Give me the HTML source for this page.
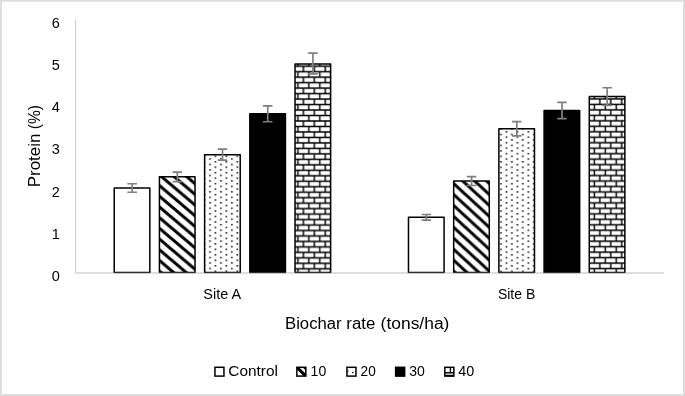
<!DOCTYPE html>
<html><head><meta charset="utf-8"><title>Protein chart</title>
<style>
html,body{margin:0;padding:0;background:#fff;}
body{width:685px;height:396px;overflow:hidden;}
svg{display:block;}
text{font-family:"Liberation Sans",sans-serif;fill:#000;}
</style></head><body>
<svg width="685" height="396" viewBox="0 0 685 396">
<defs>
<pattern id="dg1" width="10.7000" height="10.7000" patternUnits="userSpaceOnUse" patternTransform="translate(159.500,185.600) scale(1.1765,1)"><rect width="10.7000" height="10.7000" fill="#fff"/><path d="M-10.7,-10.7 L21.4,21.4 M0,-10.7 L21.4,10.7 M-10.7,0 L10.7,21.4" stroke="#000" stroke-width="2.837"/></pattern>
<pattern id="dt2" width="10.9500" height="5.4750" patternUnits="userSpaceOnUse" patternTransform="translate(0.266,3.996)"><rect width="10.9500" height="5.4750" fill="#fff"/><rect x="0.94" y="0.94" width="1.489" height="1.489" fill="#000"/><rect x="6.415" y="3.677" width="1.489" height="1.489" fill="#000"/></pattern>
<pattern id="bk3" width="10.9500" height="10.9500" patternUnits="userSpaceOnUse" patternTransform="translate(7.750,0.550)"><rect x="-10.95" y="-10.95" width="32.850" height="32.850" fill="#fff"/><path d="M-10.95,0 H21.9 M-10.95,5.475 H21.9 M-10.95,10.950 H21.9 M0,0 V5.475 M10.950,0 V5.475 M5.475,5.475 V10.950" stroke="#000" stroke-width="1.437" fill="none"/></pattern>
<pattern id="dg4" width="10.9500" height="10.9500" patternUnits="userSpaceOnUse" patternTransform="translate(453.800,183.700) scale(1.0870,1)"><rect width="10.9500" height="10.9500" fill="#fff"/><path d="M-10.95,-10.95 L21.9,21.9 M0,-10.95 L21.9,10.95 M-10.95,0 L10.95,21.9" stroke="#000" stroke-width="2.904"/></pattern>
<pattern id="dt5" width="10.9500" height="5.4750" patternUnits="userSpaceOnUse" patternTransform="translate(1.016,4.091)"><rect width="10.9500" height="5.4750" fill="#fff"/><rect x="0.94" y="0.94" width="1.489" height="1.489" fill="#000"/><rect x="6.415" y="3.677" width="1.489" height="1.489" fill="#000"/></pattern>
<pattern id="bk6" width="10.9500" height="10.9500" patternUnits="userSpaceOnUse" patternTransform="translate(8.500,0.350)"><rect x="-10.95" y="-10.95" width="32.850" height="32.850" fill="#fff"/><path d="M-10.95,0 H21.9 M-10.95,5.475 H21.9 M-10.95,10.950 H21.9 M0,0 V5.475 M10.950,0 V5.475 M5.475,5.475 V10.950" stroke="#000" stroke-width="1.437" fill="none"/></pattern>
</defs>
<rect x="0" y="0" width="685" height="396" fill="#fff"/>
<path d="M0,0 H685 V396 H0 Z M1.9,1.8 V393.9 H683 V1.8 Z" fill="#dedede" fill-rule="evenodd"/>
<rect x="74.9" y="19.5" width="1.2" height="254" fill="#d3d3d3"/>
<rect x="74.9" y="272.1" width="589.1" height="1.5" fill="#dadada"/>
<rect x="114.22" y="188.00" width="35.6" height="84.50" fill="#fff" stroke="#000" stroke-width="1.5" stroke-linejoin="round"/>
<path d="M132.12,183.75 V192.25 M127.38,183.75 H136.88 M127.38,192.25 H136.88" stroke="#7f7f7f" stroke-width="1.7" fill="none"/>
<rect x="159.43" y="176.80" width="35.6" height="95.70" fill="url(#dg1)" stroke="#000" stroke-width="1.5" stroke-linejoin="round"/>
<path d="M177.33,172.05 V181.55 M172.58,172.05 H182.08 M172.58,181.55 H182.08" stroke="#7f7f7f" stroke-width="1.7" fill="none"/>
<rect x="204.62" y="154.66" width="35.6" height="117.84" fill="url(#dt2)" stroke="#000" stroke-width="1.5" stroke-linejoin="round"/>
<path d="M222.53,149.11 V160.21 M217.78,149.11 H227.28 M217.78,160.21 H227.28" stroke="#7f7f7f" stroke-width="1.7" fill="none"/>
<rect x="249.83" y="113.80" width="35.6" height="158.70" fill="#000" stroke="#000" stroke-width="1.5" stroke-linejoin="round"/>
<path d="M267.73,105.95 V121.75 M262.98,105.95 H272.48 M262.98,121.75 H272.48" stroke="#7f7f7f" stroke-width="1.7" fill="none"/>
<rect x="295.03" y="64.00" width="35.6" height="208.50" fill="url(#bk3)" stroke="#000" stroke-width="1.5" stroke-linejoin="round"/>
<path d="M312.93,53.10 V73.80 M308.18,53.10 H317.68 M308.18,73.80 H317.68" stroke="#7f7f7f" stroke-width="1.7" fill="none"/>
<rect x="408.48" y="217.30" width="35.6" height="55.20" fill="#fff" stroke="#000" stroke-width="1.5" stroke-linejoin="round"/>
<path d="M426.38,214.50 V220.10 M421.63,214.50 H431.13 M421.63,220.10 H431.13" stroke="#7f7f7f" stroke-width="1.7" fill="none"/>
<rect x="453.68" y="181.06" width="35.6" height="91.44" fill="url(#dg4)" stroke="#000" stroke-width="1.5" stroke-linejoin="round"/>
<path d="M471.58,176.70 V185.50 M466.83,176.70 H476.33 M466.83,185.50 H476.33" stroke="#7f7f7f" stroke-width="1.7" fill="none"/>
<rect x="498.88" y="128.86" width="35.6" height="143.64" fill="url(#dt5)" stroke="#000" stroke-width="1.5" stroke-linejoin="round"/>
<path d="M516.78,121.55 V135.85 M512.03,121.55 H521.53 M512.03,135.85 H521.53" stroke="#7f7f7f" stroke-width="1.7" fill="none"/>
<rect x="544.08" y="110.60" width="35.6" height="161.90" fill="#000" stroke="#000" stroke-width="1.5" stroke-linejoin="round"/>
<path d="M561.98,102.40 V118.60 M557.23,102.40 H566.73 M557.23,118.60 H566.73" stroke="#7f7f7f" stroke-width="1.7" fill="none"/>
<rect x="589.27" y="96.50" width="35.6" height="176.00" fill="url(#bk6)" stroke="#000" stroke-width="1.5" stroke-linejoin="round"/>
<path d="M607.17,87.75 V105.45 M602.42,87.75 H611.92 M602.42,105.45 H611.92" stroke="#7f7f7f" stroke-width="1.7" fill="none"/>
<text x="59.8" y="280.70" font-size="14.5" text-anchor="end">0</text>
<text x="59.8" y="238.62" font-size="14.5" text-anchor="end">1</text>
<text x="59.8" y="196.53" font-size="14.5" text-anchor="end">2</text>
<text x="59.8" y="154.45" font-size="14.5" text-anchor="end">3</text>
<text x="59.8" y="112.37" font-size="14.5" text-anchor="end">4</text>
<text x="59.8" y="70.28" font-size="14.5" text-anchor="end">5</text>
<text x="59.8" y="28.20" font-size="14.5" text-anchor="end">6</text>
<text x="222.2" y="299" font-size="14.6" text-anchor="middle" textLength="37.7" lengthAdjust="spacingAndGlyphs">Site A</text>
<text x="516.6" y="299" font-size="14.6" text-anchor="middle" textLength="37.3" lengthAdjust="spacingAndGlyphs">Site B</text>
<text x="285.0" y="328.5" font-size="15.6" textLength="56.6" lengthAdjust="spacingAndGlyphs">Biochar</text>
<text x="346.3" y="328.5" font-size="15.6" textLength="29.0" lengthAdjust="spacingAndGlyphs">rate</text>
<text x="380.6" y="328.5" font-size="15.6" textLength="68.8" lengthAdjust="spacingAndGlyphs">(tons/ha)</text>
<text transform="translate(40.4,187.2) rotate(-90)" font-size="15.6" textLength="53.6" lengthAdjust="spacingAndGlyphs">Protein</text>
<text transform="translate(40.4,129.3) rotate(-90)" font-size="15.6" textLength="24.2" lengthAdjust="spacingAndGlyphs">(%)</text>
<rect x="214.95" y="367.3" width="9.0" height="8.8" fill="#fff"/><rect x="214.95" y="367.3" width="9.0" height="8.8" fill="none" stroke="#000" stroke-width="1.5"/>
<text x="228.3" y="376.4" font-size="14.5" textLength="49.6" lengthAdjust="spacingAndGlyphs">Control</text>
<rect x="296.85" y="367.3" width="9.0" height="8.8" fill="#fff"/><clipPath id="lc1"><rect x="296.85" y="367.3" width="9.0" height="8.8"/></clipPath><g clip-path="url(#lc1)"><path d="M294.85,365.3 L307.85,378.1" stroke="#000" stroke-width="3.1"/><path d="M301.65000000000003,366.3 L306.85,371.5 L306.85,366.3 Z" fill="#000"/></g><rect x="296.85" y="367.3" width="9.0" height="8.8" fill="none" stroke="#000" stroke-width="1.5"/>
<text x="310.6" y="376.4" font-size="14.5" textLength="15.6" lengthAdjust="spacingAndGlyphs">10</text>
<rect x="346.95" y="367.3" width="9.0" height="8.8" fill="#fff"/><rect x="352.1" y="371.8" width="1.4" height="1.4" fill="#111"/><rect x="347.55" y="370.4" width="1" height="1.3" fill="#111"/><rect x="346.95" y="367.3" width="9.0" height="8.8" fill="none" stroke="#000" stroke-width="1.5"/>
<text x="360.6" y="376.4" font-size="14.5" textLength="15.2" lengthAdjust="spacingAndGlyphs">20</text>
<rect x="395.65" y="367.3" width="9.0" height="8.8" fill="#000"/><rect x="395.65" y="367.3" width="9.0" height="8.8" fill="none" stroke="#000" stroke-width="1.5"/>
<text x="409.3" y="376.4" font-size="14.5" textLength="15.6" lengthAdjust="spacingAndGlyphs">30</text>
<rect x="444.85" y="367.3" width="9.0" height="8.8" fill="#fff"/><path d="M444.85,372.7 H453.85 M450.4,367.3 V372.7 M444.85,375.5 H453.85" stroke="#000" stroke-width="1.4" fill="none"/><rect x="444.85" y="367.3" width="9.0" height="8.8" fill="none" stroke="#000" stroke-width="1.5"/>
<text x="458.3" y="376.4" font-size="14.5" textLength="16.0" lengthAdjust="spacingAndGlyphs">40</text>
<rect x="76.1" y="272.8" width="587.9" height="0.8" fill="#dadada"/>
</svg></body></html>
